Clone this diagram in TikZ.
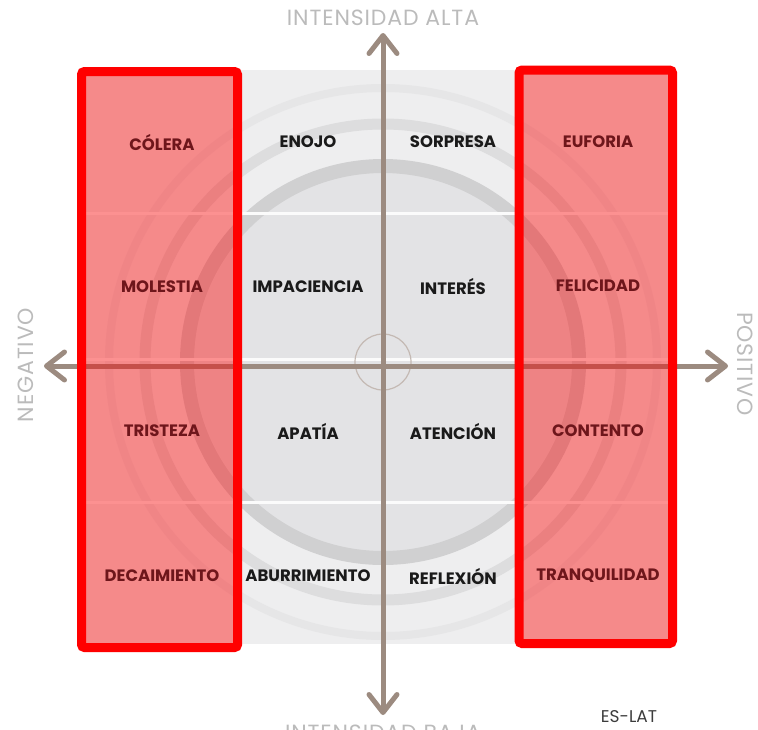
\documentclass[tikz,border=0pt]{standalone}
\usepackage{fontspec}
\setmainfont{Poppins}
\usetikzlibrary{arrows.meta}
\definecolor{axiscol}{HTML}{9C8B80}
\definecolor{bgout}{HTML}{EEEEEF}
\definecolor{bgin}{HTML}{E3E3E5}
\definecolor{ringa}{HTML}{D0D0D1}
\definecolor{ringb}{HTML}{DDDDDE}
\definecolor{ringc}{HTML}{E6E6E7}
\definecolor{redtext}{HTML}{6E161B}
\definecolor{darktext}{HTML}{1A1A1A}
\definecolor{axislabel}{HTML}{BBBBBB}
\definecolor{boxred}{HTML}{FF0000}
\tikzset{
  emo/.style={font=\fontsize{16.5}{18}\selectfont\bfseries, text=darktext, inner sep=0pt},
  emored/.style={emo, text=redtext},
  axlabel/.style={font=\fontsize{22}{24}\selectfont\addfontfeatures{LetterSpace=4}, text=axislabel, inner sep=0pt},
  axisline/.style={draw=axiscol, line width=5pt, line cap=round,
     {Straight Barb[length=18pt,width=28pt,round]}-{Straight Barb[length=18pt,width=28pt,round]}},
  redbox/.style={draw=boxred, line width=9pt, fill=boxred, fill opacity=0.42, draw opacity=1, rounded corners=3pt},
  gridline/.style={draw=white!97!gray, line width=3pt},
}
\begin{document}
\begin{tikzpicture}[x=1pt,y=-1pt]
\useasboundingbox (0,0) rectangle (758,729);
\clip (0,0) rectangle (758,729);
% background square
\fill[bgout] (84,70) rectangle (672,644);
\begin{scope}
  \clip (84,70) rectangle (672,644);
  \draw[ringc, line width=8pt] (383,362) circle[radius=274pt];
  \draw[ringb, line width=11pt] (383,362) circle[radius=238pt];
  \fill[bgin] (383,362) circle[radius=196pt];
  \draw[ringa, line width=14pt] (383,362) circle[radius=196pt];
\end{scope}
\draw[gridline] (84,213) -- (672,213);
\draw[gridline] (84,359) -- (672,359);
\draw[gridline] (84,502) -- (672,502);
\node[draw=axiscol!60, line width=1.2pt, circle, minimum size=56pt, inner sep=0pt] (ctr) at (383,362) {};
% axes
\coordinate (L) at (44,366);
\coordinate (R) at (728,366);
\coordinate (T) at (383,33);
\coordinate (B) at (383,715);
\draw[axisline] (L) -- (R);
% red boxes
\draw[redbox] (81.5,71.5) rectangle (237.5,647.5);
\draw[redbox] (519,70) rectangle (672.5,643.5);
\draw[axisline] (B) -- (T);
% labels
\node[emored] (c1) at (162,142) {CÓLERA};
\node[emored] (c2) at (162,287) {MOLESTIA};
\node[emored] (c3) at (162,431) {TRISTEZA};
\node[emored] (c4) at (162,576) {DECAIMIENTO};
\node[emo] (e1) at (308,142) {ENOJO};
\node[emo] (e2) at (308,287) {IMPACIENCIA};
\node[emo] (e3) at (308,431) {APATÍA};
\node[emo] (e4) at (308,576) {ABURRIMIENTO};
\node[emo] (s1) at (453,142) {SORPRESA};
\node[emo] (s2) at (453,286) {INTERÉS};
\node[emo] (s3) at (453,431) {ATENCIÓN};
\node[emo] (s4) at (453,576) {REFLEXIÓN};
\node[emored] (f1) at (598,142) {EUFORIA};
\node[emored] (f2) at (598,286) {FELICIDAD};
\node[emored] (f3) at (598,431) {CONTENTO};
\node[emored] (f4) at (598,576) {TRANQUILIDAD};
% axis labels
\node[axlabel] (ta) at (383,18) {INTENSIDAD ALTA};
\node[axlabel] (tb) at (383,733) {INTENSIDAD BAJA};
\node[axlabel, rotate=90] (tn) at (26,365) {NEGATIVO};
\node[axlabel, rotate=-90] (tp) at (745,364) {POSITIVO};
\node[font=\fontsize{17}{19}\selectfont, text=darktext!85, inner sep=0pt] (es) at (629,717) {ES-LAT};
\end{tikzpicture}
\end{document}
